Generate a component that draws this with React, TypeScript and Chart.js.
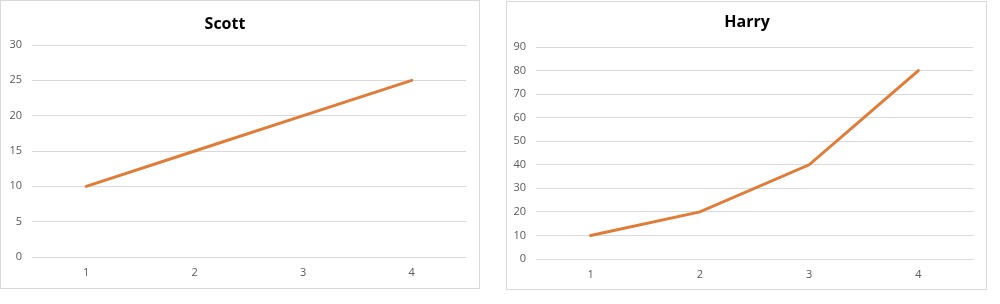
import React, { useEffect, useRef } from "react";
import { Chart, registerables } from "chart.js";

Chart.register(...registerables);

const categories = ["1", "2", "3", "4"];
const scottValues = [10, 15, 20, 25];
const harryValues = [10, 20, 40, 80];
const scottTitle = "Scott";
const harryTitle = "Harry";

const LINE_COLOR = "#E07C38";
const GRID_COLOR = "#D9D9D9";
const TICK_COLOR = "#595959";
const FONT = "'Open Sans', 'Liberation Sans', sans-serif";

type Cfg = {
  title: string;
  values: number[];
  max: number;
  step: number;
  width: number;
  height: number;
  padLeft: number;
  yWidth: number;
  rightGap: number;
  xHeight: number;
  titleTop: number;
  titleBottom: number;
};

function LineBox(props: Cfg & { style: React.CSSProperties }) {
  const ref = useRef<HTMLCanvasElement | null>(null);
  useEffect(() => {
    if (!ref.current) return;
    const scales: any = {
      x: {
        offset: true,
        grid: { display: false, drawTicks: false },
        border: { display: false },
        ticks: {
          color: TICK_COLOR,
          font: { family: FONT, size: 11 },
          padding: 9,
          maxRotation: 0,
        },
        afterFit: (s: any) => {
          s.height = props.xHeight;
        },
      },
      y: {
        min: 0,
        max: props.max,
        grid: { color: GRID_COLOR, drawTicks: false, lineWidth: 1 },
        border: { display: false },
        ticks: {
          stepSize: props.step,
          color: TICK_COLOR,
          font: { family: FONT, size: 11 },
          padding: 10,
        },
        afterFit: (s: any) => {
          s.width = props.yWidth;
        },
      },
    };
    if (props.rightGap > 0) {
      scales.yGap = {
        position: "right",
        min: 0,
        max: 1,
        grid: { display: false, drawTicks: false },
        border: { display: false },
        ticks: { display: false },
        afterFit: (s: any) => {
          s.width = props.rightGap;
        },
      };
    }
    const chart = new Chart(ref.current, {
      type: "line",
      data: {
        labels: categories,
        datasets: [
          {
            data: props.values,
            borderColor: LINE_COLOR,
            backgroundColor: LINE_COLOR,
            borderWidth: 3,
            pointRadius: 0,
            tension: 0,
            borderCapStyle: "round",
            yAxisID: "y",
          },
        ],
      },
      options: {
        animation: false,
        responsive: false,
        devicePixelRatio: 1,
        layout: { padding: { left: props.padLeft, right: 0, top: 0, bottom: 0 } },
        plugins: {
          legend: { display: false },
          tooltip: { enabled: false },
          title: {
            display: true,
            text: props.title,
            color: "#000000",
            font: { family: FONT, size: 16, weight: "bold", lineHeight: 1.2 },
            padding: { top: props.titleTop, bottom: props.titleBottom },
          },
        },
        scales,
      },
    });
    return () => chart.destroy();
  }, []);
  return (
    <canvas
      ref={ref}
      width={props.width}
      height={props.height}
      style={{ position: "absolute", ...props.style }}
    />
  );
}

export default function App() {
  return (
    <div
      style={{
        position: "fixed",
        left: 0,
        top: 0,
        width: 1000,
        height: 304,
        background: "#ffffff",
        overflow: "hidden",
      }}
    >
      <div
        style={{
          position: "absolute",
          left: 0,
          top: 0,
          width: 480,
          height: 289,
          boxSizing: "border-box",
          border: "1px solid #D9D9D9",
        }}
      />
      <div
        style={{
          position: "absolute",
          left: 506,
          top: 1,
          width: 481,
          height: 289,
          boxSizing: "border-box",
          border: "1px solid #D9D9D9",
        }}
      />
      <LineBox
        title={scottTitle}
        values={scottValues}
        max={30}
        step={5}
        width={482}
        height={288}
        padLeft={0}
        yWidth={48}
        rightGap={0}
        xHeight={31}
        titleTop={14.4}
        titleBottom={11.4}
        style={{ left: -16, top: 0 }}
      />
      <LineBox
        title={harryTitle}
        values={harryValues}
        max={90}
        step={10}
        width={475}
        height={287}
        padLeft={7}
        yWidth={23}
        rightGap={8}
        xHeight={30}
        titleTop={10.4}
        titleBottom={15.4}
        style={{ left: 506, top: 2 }}
      />
    </div>
  );
}
